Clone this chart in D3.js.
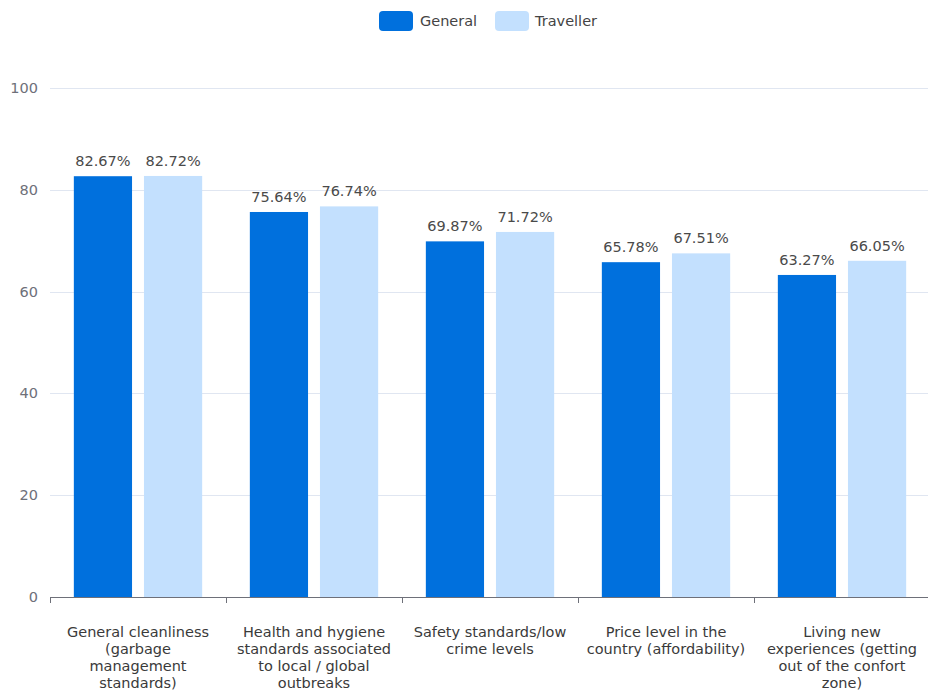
<!DOCTYPE html>
<html>
<head>
<meta charset="utf-8">
<script src="https://cdn.jsdelivr.net/npm/d3@7"></script>
<style>
  html, body { margin: 0; padding: 0; background: #fff; }
  svg { display: block; font-family: "DejaVu Sans", "Noto Sans", sans-serif; }
</style>
</head>
<body>
<svg id="chart" width="928" height="691"></svg>
<script>
// Travel motivation factors, share of respondents (%)
const categories = [
  ["General cleanliness", "(garbage", "management", "standards)"],
  ["Health and hygiene", "standards associated", "to local / global", "outbreaks"],
  ["Safety standards/low", "crime levels"],
  ["Price level in the", "country (affordability)"],
  ["Living new", "experiences (getting", "out of the confort", "zone)"]
];
const seriesNames = ["General", "Traveller"];
const generalValues = [82.67, 75.64, 69.87, 65.78, 63.27];
const travellerValues = [82.72, 76.74, 71.72, 67.51, 66.05];
const yTicks = [0, 20, 40, 60, 80, 100];

const colors = ["#0070dd", "#c3e0fe"];
const series = [generalValues, travellerValues];

const svg = d3.select("#chart");
const W = 928, H = 691;
const x0 = 50, x1 = 930;
const yBottom = 597, yTop = 88;
const fontSize = 14.5;

const idx = categories.map((d, i) => i);
const x = d3.scaleBand().domain(idx).range([x0, x1]);
const xs = d3.scaleBand().domain([0, 1]).range([0, x.bandwidth()])
  .paddingInner(0.17).paddingOuter(0.34);
const y = d3.scaleLinear().domain([0, 100]).range([yBottom, yTop]);

// horizontal grid lines
svg.append("g")
  .selectAll("line")
  .data(yTicks.filter(t => t > 0))
  .join("line")
  .attr("x1", x0).attr("x2", x1)
  .attr("y1", d => Math.round(y(d)) + 0.5).attr("y2", d => Math.round(y(d)) + 0.5)
  .attr("stroke", "#e0e6f1").attr("stroke-width", 1);

// y tick labels
svg.append("g")
  .selectAll("text")
  .data(yTicks)
  .join("text")
  .attr("x", x0 - 12)
  .attr("y", d => y(d))
  .attr("dy", "0.35em")
  .attr("text-anchor", "end")
  .attr("fill", "#6e7079")
  .attr("font-size", fontSize)
  .text(d => d);

// bars with value labels
series.forEach((vals, s) => {
  svg.append("g")
    .selectAll("rect")
    .data(vals)
    .join("rect")
    .attr("x", (d, i) => x(i) + xs(s))
    .attr("width", xs.bandwidth())
    .attr("y", d => y(d))
    .attr("height", d => yBottom - y(d))
    .attr("fill", colors[s]);

  svg.append("g")
    .selectAll("text")
    .data(vals)
    .join("text")
    .attr("x", (d, i) => x(i) + xs(s) + xs.bandwidth() / 2)
    .attr("y", d => y(d) - 10)
    .attr("text-anchor", "middle")
    .attr("fill", "#4a4a4a")
    .attr("font-size", fontSize)
    .text(d => d.toFixed(2) + "%");
});

// x axis
const xAxis = svg.append("g");
xAxis.append("line")
  .attr("x1", x0).attr("x2", x1)
  .attr("y1", yBottom + 0.5).attr("y2", yBottom + 0.5)
  .attr("stroke", "#6e7079");
xAxis.selectAll("line.tick")
  .data(d3.range(categories.length + 1))
  .join("line")
  .attr("class", "tick")
  .attr("x1", i => (i < categories.length ? x(i) : x1) + 0.5)
  .attr("x2", i => (i < categories.length ? x(i) : x1) + 0.5)
  .attr("y1", yBottom).attr("y2", yBottom + 6)
  .attr("stroke", "#6e7079");

const labels = xAxis.selectAll("text.cat")
  .data(categories)
  .join("text")
  .attr("class", "cat")
  .attr("text-anchor", "middle")
  .attr("fill", "#3a3a3a")
  .attr("font-size", fontSize);
labels.selectAll("tspan")
  .data((d, i) => d.map(line => ({ line, i })))
  .join("tspan")
  .attr("x", d => x(d.i) + x.bandwidth() / 2)
  .attr("y", (d, j) => yBottom + 40 + j * 17)
  .text(d => d.line);

// legend
const legendItems = [
  { name: seriesNames[0], color: colors[0], rx: 379, tx: 420 },
  { name: seriesNames[1], color: colors[1], rx: 495, tx: 535 }
];
const legend = svg.append("g");
legendItems.forEach(item => {
  legend.append("rect")
    .attr("x", item.rx).attr("y", 11)
    .attr("width", 34).attr("height", 20)
    .attr("rx", 4)
    .attr("fill", item.color);
  legend.append("text")
    .attr("x", item.tx).attr("y", 21)
    .attr("dy", "0.35em")
    .attr("fill", "#444")
    .attr("font-size", fontSize)
    .text(item.name);
});
</script>
</body>
</html>
